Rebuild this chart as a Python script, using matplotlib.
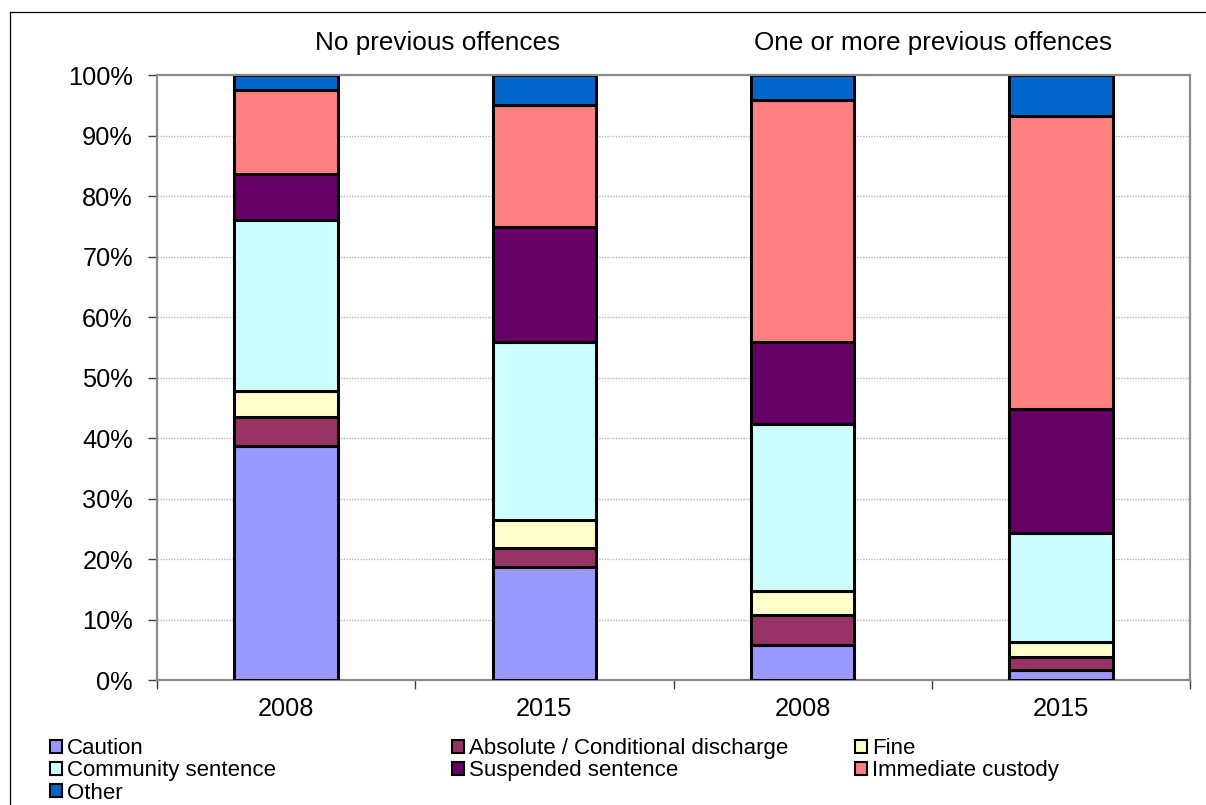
import matplotlib
matplotlib.use("Agg")
import matplotlib.pyplot as plt
from matplotlib.lines import Line2D
import numpy as np

plt.rcParams['font.family'] = ['Liberation Sans', 'DejaVu Sans']

# ---- data ----
groups = ["No previous offences", "One or more previous offences"]
years = ["2008", "2015", "2008", "2015"]
series_names = ["Caution", "Absolute / Conditional discharge", "Fine",
                "Community sentence", "Suspended sentence", "Immediate custody", "Other"]
caution = [38.6, 18.6, 5.8, 1.6]
discharge = [4.9, 3.3, 5.0, 2.2]
fine = [4.3, 4.5, 3.9, 2.5]
community = [28.2, 29.4, 27.6, 18.0]
suspended = [7.7, 19.0, 13.5, 20.5]
custody = [13.9, 20.3, 40.0, 48.5]
other = [2.4, 4.9, 4.2, 6.7]
colors = ["#9999FF", "#993366", "#FFFFCC", "#CCFFFF", "#660066", "#FF8080", "#0066CC"]

series = [caution, discharge, fine, community, suspended, custody, other]

W, H = 1206, 805
fig = plt.figure(figsize=(W / 100, H / 100), dpi=100)
ax = fig.add_axes([157 / W, (H - 680) / H, 1033 / W, 605 / H])

x = np.arange(len(years))
bottom = np.zeros(len(years))
bars = []
for vals, col, name in zip(series, colors, series_names):
    b = ax.bar(x, vals, 0.4, bottom=bottom, color=col, edgecolor="black",
               linewidth=2.2, label=name, zorder=3)
    bars.append(b)
    bottom += np.array(vals)

ax.set_xlim(-0.5, len(years) - 0.5)
ax.set_ylim(0, 100)
ax.set_yticks(np.arange(0, 101, 10))
ax.set_yticklabels([f"{v}%" for v in range(0, 101, 10)])
ax.yaxis.grid(True, linestyle=(0, (1, 1)), color="#b8b8b8", linewidth=1, zorder=0)
ax.set_axisbelow(True)

ax.set_xticks(np.arange(-0.5, len(years), 1.0))
ax.set_xticklabels([])
ax.set_xticks(x, minor=True)
ax.set_xticklabels(years, minor=True)
ax.tick_params(axis="x", which="major", length=6.5, width=1, color="#404040", direction="out")
ax.tick_params(axis="x", which="minor", length=0, pad=12, labelsize=18.3)
ax.tick_params(axis="y", length=6.5, width=1, color="#404040", pad=10.8, labelsize=18.3)

for sp in ax.spines.values():
    sp.set_color("#8c8c8c")
    sp.set_linewidth(1.6)
ax.spines["top"].set_zorder(4)

# group titles
fig.text(315 / W, (H - 50) / H, groups[0], fontsize=18.8, ha="left", va="baseline")
fig.text(1112 / W, (H - 50) / H, groups[1], fontsize=18.8, ha="right", va="baseline")

# legends (three columns, row-major order)
cols = [[0, 3, 6], [1, 4], [2, 5]]
col_x = [50, 452, 855]
for ci, idxs in enumerate(cols):
    leg = fig.legend([bars[i] for i in idxs], [series_names[i] for i in idxs],
                     loc="upper left", bbox_to_anchor=(col_x[ci] / W, (H - 738) / H),
                     frameon=False, fontsize=16, handlelength=0.54, handleheight=0.54,
                     handletextpad=0.22, labelspacing=0.06, borderpad=0, borderaxespad=0)
    for h in leg.legend_handles:
        h.set_linewidth(1.5)

# figure border lines (top and left)
fig.add_artist(Line2D([9.5 / W, 1.0], [(H - 12) / H, (H - 12) / H], color="black", linewidth=0.9))
fig.add_artist(Line2D([9.5 / W, 9.5 / W], [(H - 12) / H, 0], color="black", linewidth=0.9))

fig.savefig("out.png", dpi=100)
